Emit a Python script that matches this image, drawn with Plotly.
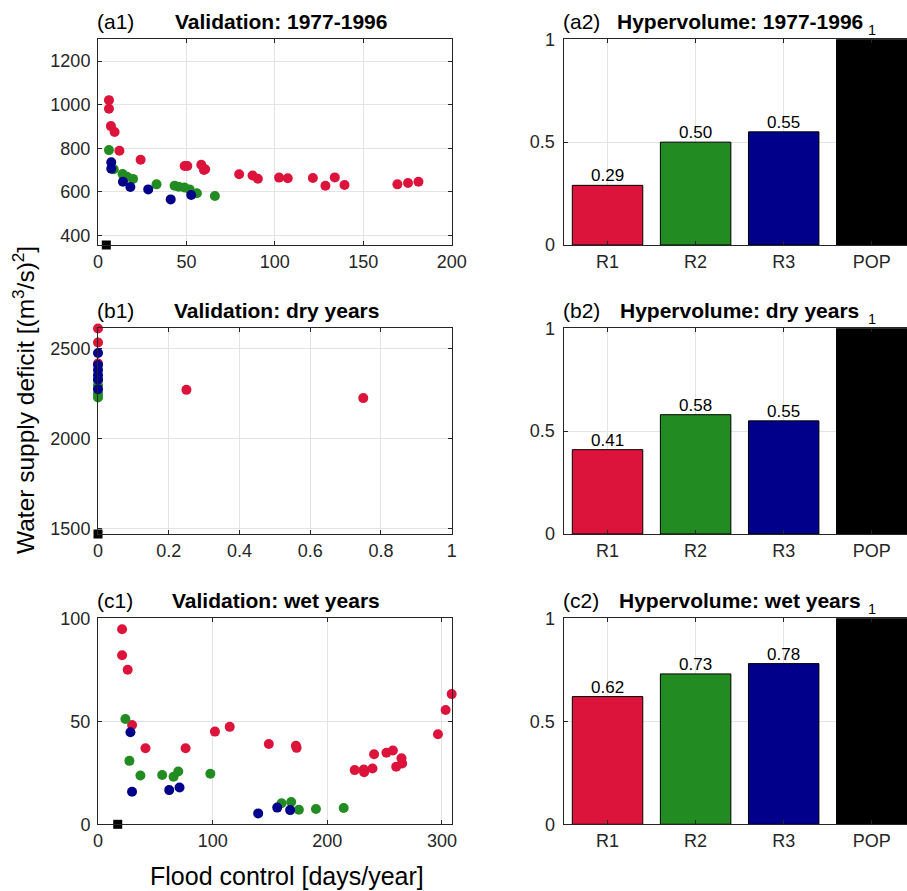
import plotly.graph_objects as go

W, H = 907, 891
FONT = "Liberation Sans, Arial, Helvetica, sans-serif"
RED, GREEN, BLUE = "#DC143C", "#228B22", "#00008B"
AXC = "#262626"
GRID = "#e3e3e3"

# ---------------- data ----------------
# (a1) Validation: 1977-1996
a1_red_x = [6.2, 6.2, 7.3, 9.4, 12.1, 24.1, 49.0, 50.5, 58.4, 59.9, 60.6, 79.8, 87.4, 90.4,
            102.4, 107.3, 121.5, 128.6, 133.9, 139.4, 169.3, 175.3, 181.2]
a1_red_y = [1021, 982, 902, 875, 789, 748, 719, 719, 725, 701, 704, 681, 676, 661,
            666, 663, 664, 629, 667, 632, 635, 641, 647]
a1_green_x = [6.2, 8.9, 13.9, 16.4, 19.8, 33.1, 43.3, 45.6, 48.8, 51.8, 55.9, 66.1]
a1_green_y = [792, 704, 682, 670, 660, 635, 629, 624, 621, 612, 594, 582]
a1_blue_x = [7.5, 7.5, 14.1, 18.3, 28.4, 41.1, 52.7]
a1_blue_y = [736, 707, 647, 623, 612, 566, 586]
a1_ideal_x = [4.7]
a1_ideal_y = [357]

# (b1) Validation: dry years
b1_red_x = [0, 0, 0, 0.25, 0.75]
b1_red_y = [2613, 2535, 2418, 2271, 2225]
b1_green_x = [0, 0, 0, 0]
b1_green_y = [2325, 2297, 2251, 2229]
b1_blue_x = [0, 0, 0, 0, 0, 0]
b1_blue_y = [2476, 2409, 2381, 2353, 2329, 2275]
b1_ideal_x = [0]
b1_ideal_y = [1468]

# (c1) Validation: wet years
c1_red_x = [21.0, 21.0, 25.9, 29.7, 102.0, 114.9, 41.4, 76.4, 149.0, 172.6, 173.2, 223.9,
            231.8, 232.1, 239.4, 240.8, 251.6, 257.2, 264.7, 260.1, 265.3, 296.5, 303.2, 308.5]
c1_red_y = [94.7, 82.1, 75.0, 48.2, 45.0, 47.3, 36.9, 36.9, 39.0, 38.1, 37.1, 26.3,
            26.6, 25.3, 27.1, 34.0, 34.7, 35.8, 32.1, 27.9, 29.5, 43.7, 55.5, 63.2]
c1_green_x = [23.9, 27.4, 37.0, 56.0, 65.9, 70.0, 98.0, 160.1, 168.5, 175.2, 190.1, 214.3]
c1_green_y = [51.1, 30.8, 23.7, 23.9, 23.1, 25.6, 24.5, 10.2, 10.8, 7.1, 7.4, 7.9]
c1_blue_x = [28.3, 29.7, 62.1, 71.1, 139.7, 156.3, 167.6]
c1_blue_y = [44.7, 15.8, 16.6, 17.9, 5.3, 8.1, 6.9]
c1_ideal_x = [17.2]
c1_ideal_y = [0]

# Hypervolume bars
bar_labels = ["R1", "R2", "R3", "POP"]
hv_1977_1996 = [0.29, 0.50, 0.55, 1.0]
hv_dry = [0.41, 0.58, 0.55, 1.0]
hv_wet = [0.62, 0.73, 0.78, 1.0]
bar_colors = [RED, GREEN, BLUE, "#000000"]

# ---------------- layout geometry (pixels -> paper) ----------------
def px_x(a, b):
    return [a / W, b / W]

def px_y(top, bottom):
    return [1 - bottom / H, 1 - top / H]

LEFT = px_x(98, 451.7)
RIGHT = px_x(563.5, 907)
ROWS = [(39.3, 245.0), (328.3, 534.0), (618.3, 824.3)]

fig = go.Figure()

def scatter_panel(idx, rx, ry, gx, gy, bx, by, ix, iy):
    xa = "x" if idx == 1 else f"x{idx}"
    ya = "y" if idx == 1 else f"y{idx}"
    for xs, ys, c in [(rx, ry, RED), (gx, gy, GREEN), (bx, by, BLUE)]:
        fig.add_trace(go.Scatter(x=xs, y=ys, mode="markers", xaxis=xa, yaxis=ya,
                                 marker=dict(color=c, size=10, line=dict(width=0)),
                                 cliponaxis=False, showlegend=False))
    fig.add_trace(go.Scatter(x=ix, y=iy, mode="markers", xaxis=xa, yaxis=ya,
                             marker=dict(color="black", symbol="square", size=9, line=dict(width=0)),
                             cliponaxis=False, showlegend=False))

def bar_panel(idx, vals):
    xa = f"x{idx}"
    ya = f"y{idx}"
    fig.add_trace(go.Bar(x=[1, 2, 3, 4], y=vals, xaxis=xa, yaxis=ya, width=0.8,
                         marker=dict(color=bar_colors, line=dict(color="black", width=1)),
                         showlegend=False))
    for i, v in enumerate(vals):
        if v == 1.0:
            txt, size, shift = "1", 14.5, 9.5
        else:
            txt, size, shift = f"{v:.2f}", 17, 9.5
        fig.add_annotation(x=i + 1, y=v, xref=xa, yref=ya, text=txt, showarrow=False,
                           yanchor="middle", yshift=shift,
                           font=dict(family=FONT, size=size, color="black"))

scatter_panel(1, a1_red_x, a1_red_y, a1_green_x, a1_green_y, a1_blue_x, a1_blue_y, a1_ideal_x, a1_ideal_y)
bar_panel(2, hv_1977_1996)
scatter_panel(3, b1_red_x, b1_red_y, b1_green_x, b1_green_y, b1_blue_x, b1_blue_y, b1_ideal_x, b1_ideal_y)
bar_panel(4, hv_dry)
scatter_panel(5, c1_red_x, c1_red_y, c1_green_x, c1_green_y, c1_blue_x, c1_blue_y, c1_ideal_x, c1_ideal_y)
bar_panel(6, hv_wet)

tickfont = dict(family=FONT, size=18, color=AXC)

def axis(domain, anchor, rng, tickvals, mirror="ticks", ticktext=None, standoff=0):
    d = dict(domain=domain, anchor=anchor, range=rng, tickvals=tickvals,
             showline=True, linecolor=AXC, linewidth=1, mirror=mirror,
             ticks="inside", ticklen=4, tickcolor=AXC, tickwidth=1,
             showgrid=True, gridcolor=GRID, gridwidth=1, zeroline=False,
             tickfont=tickfont, fixedrange=True, ticklabelstandoff=standoff,
             automargin=False)
    if ticktext is not None:
        d["ticktext"] = ticktext
    return d

layout = dict(width=W, height=H, autosize=False,
              margin=dict(l=0, r=0, t=0, b=0, pad=0, autoexpand=False),
              paper_bgcolor="white", plot_bgcolor="white",
              font=dict(family=FONT, color=AXC), bargap=0.2)

# scatter axes
layout["xaxis"] = axis(LEFT, "y", [0, 200], [0, 50, 100, 150, 200])
layout["yaxis"] = axis(px_y(*ROWS[0]), "x", [357, 1300], [400, 600, 800, 1000, 1200], standoff=3)
layout["xaxis3"] = axis(LEFT, "y3", [0, 1], [0, 0.2, 0.4, 0.6, 0.8, 1])
layout["yaxis3"] = axis(px_y(*ROWS[1]), "x3", [1468, 2614], [1500, 2000, 2500], standoff=3)
layout["xaxis5"] = axis(LEFT, "y5", [0, 308.5], [0, 100, 200, 300])
layout["yaxis5"] = axis(px_y(*ROWS[2]), "x5", [0, 100], [0, 50, 100], standoff=3)

# bar axes
for k, r in zip([2, 4, 6], ROWS):
    layout[f"xaxis{k}"] = axis(RIGHT, f"y{k}", [0.5, 4.4], [1, 2, 3, 4], mirror="ticks",
                               ticktext=bar_labels)
    layout[f"yaxis{k}"] = axis(px_y(*r), f"x{k}", [0, 1], [0, 0.5, 1], mirror=False, standoff=4)

fig.update_layout(**layout)

def ann(xp, yp, text, size, xanchor="center", bold=False, angle=0):
    fig.add_annotation(x=xp / W, y=1 - yp / H, xref="paper", yref="paper",
                       text=f"<b>{text}</b>" if bold else text, showarrow=False,
                       xanchor=xanchor, yanchor="middle", textangle=angle,
                       font=dict(family=FONT, size=size, color="black"))

titles_left = [("(a1)", "Validation: 1977-1996", 281), ("(b1)", "Validation: dry years", 276),
               ("(c1)", "Validation: wet years", 276)]
titles_right = [("(a2)", "Hypervolume: 1977-1996"), ("(b2)", "Hypervolume: dry years"),
                ("(c2)", "Hypervolume: wet years")]
for (lab, t, cx), (top, _) in zip(titles_left, ROWS):
    ann(95, top - 18, lab, 21, xanchor="left")
    ann(cx, top - 18, t, 21, bold=True)
for (lab, t), (top, _) in zip(titles_right, ROWS):
    ann(561, top - 18, lab, 21, xanchor="left")
    ann(739.5, top - 18, t, 21, bold=True)

ann(287, 876, "Flood control [days/year]", 25)
ann(24, 400, "Water supply deficit [(m<sup>3</sup>/s)<sup>2</sup>]", 24.5, angle=-90)

post = ("document.documentElement.style.margin='0';document.body.style.margin='0';"
        "document.body.style.overflow='hidden';"
        "var d=document.getElementById('{plot_id}');"
        "d.style.position='fixed';d.style.left='0px';d.style.top='0px';")

fig.write_html("out.html", config={"displayModeBar": False}, post_script=post)
